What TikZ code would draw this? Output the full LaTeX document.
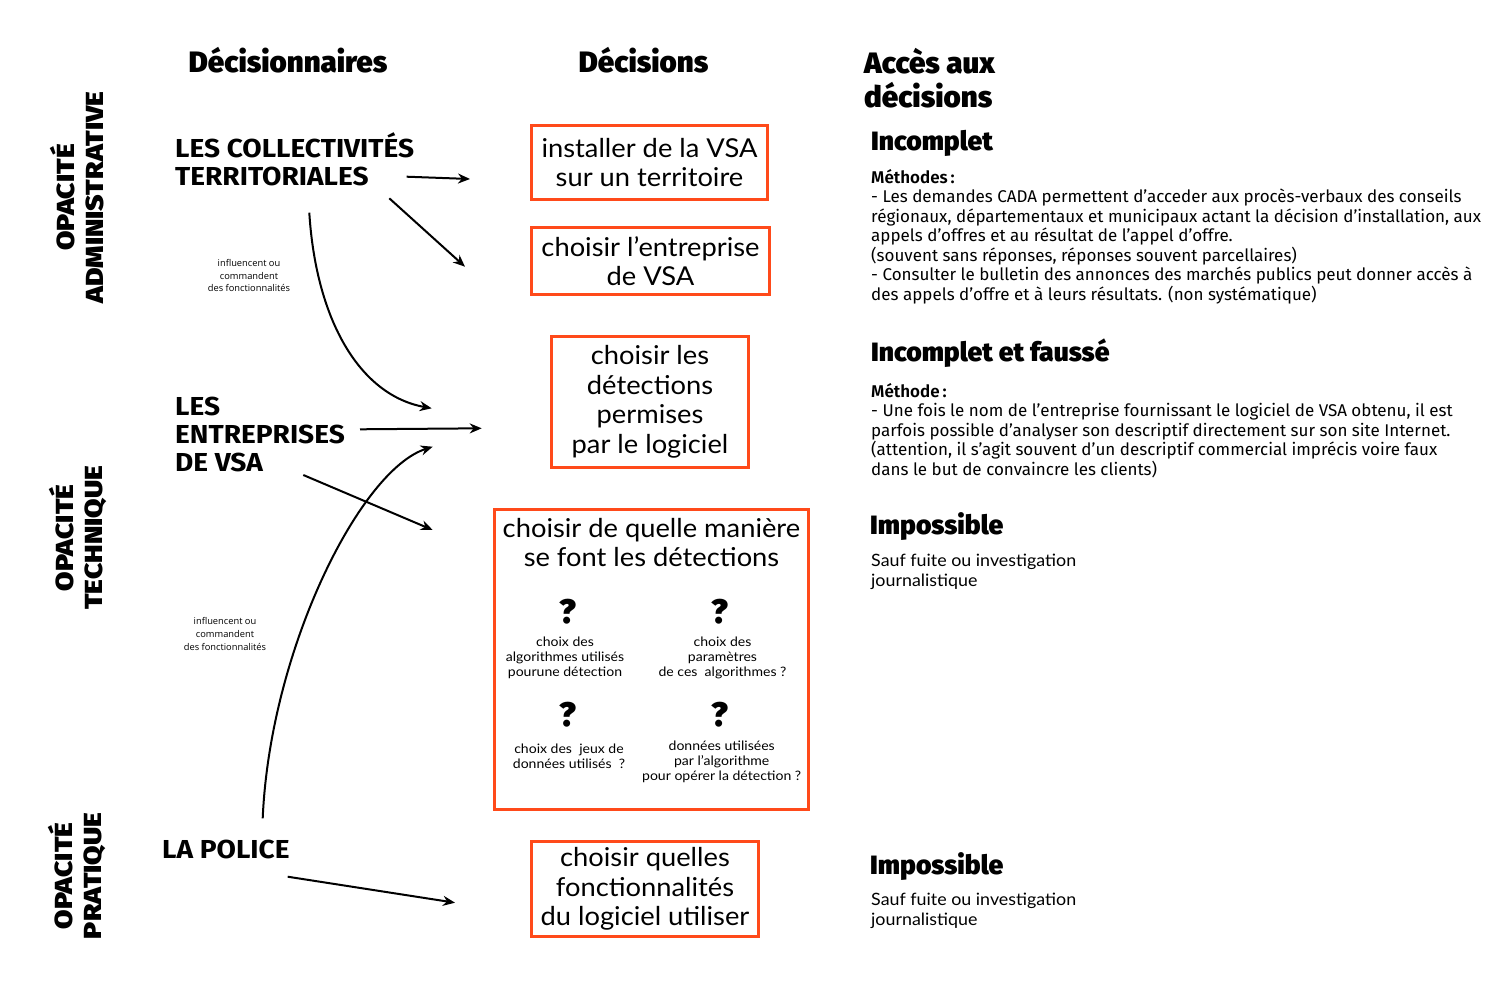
\documentclass[tikz,border=0pt]{standalone}
\usepackage{fontspec}
\setmainfont{Lato}[FakeStretch=1.05]
\newfontfamily\heavyfont{Fira Sans Black}
\newfontfamily\opacfont{Fira Sans Black}[FakeStretch=1.14]
\newfontfamily\firafont{Fira Sans}[BoldFont={Fira Sans SemiBold}]
\newfontfamily\actorfont{Fira Sans}[FakeStretch=1.08]
\newfontfamily\notefont{Open Sans}
\newfontfamily\detailfont{Lato}[FakeStretch=1.08]
\usetikzlibrary{arrows.meta,calc}
\definecolor{vsaOrange}{HTML}{FF4A1A}
\tikzset{
  colhead/.style={font=\heavyfont\fontsize{29.5}{34}\selectfont, inner sep=0pt, anchor=base},
  accesshead/.style={font=\heavyfont\fontsize{26.5}{30}\selectfont, inner sep=0pt, anchor=base west},
  opaclabel/.style={font=\opacfont\fontsize{24.7}{29}\selectfont, inner sep=0pt, rotate=90, align=center},
  actor/.style={font=\actorfont\bfseries\fontsize{26}{28}\selectfont, inner sep=0pt, anchor=base west, align=left},
  note/.style={font=\notefont\fontsize{9.3}{12.7}\selectfont, inner sep=0pt, anchor=base, align=center},
  decision/.style={draw=vsaOrange, line width=3pt, inner sep=0pt, align=center,
    font=\fontsize{26}{29.5}\selectfont},
  boxtext/.style={font=\fontsize{26}{29.5}\selectfont, inner sep=0pt, anchor=base, align=center},
  qmark/.style={font=\heavyfont\fontsize{34}{34}\selectfont, inner sep=0pt, anchor=base},
  detail/.style={font=\detailfont\fontsize{13}{15}\selectfont, inner sep=0pt, anchor=base, align=center},
  method/.style={font=\firafont\fontsize{17}{19.5}\selectfont, inner sep=0pt, anchor=base west, align=left},
  leak/.style={font=\fontsize{17}{20}\selectfont, inner sep=0pt, anchor=base west, align=left},
  flow/.style={-{Stealth[length=12pt, width=10pt]}, line width=2pt}
}
\begin{document}
\begin{tikzpicture}[x=1pt, y=-1pt]
  \useasboundingbox (0,0) rectangle (1500,988);
  % column titles
  \node[colhead] (hDecideurs) at (288,72.7) {Décisionnaires};
  \node[colhead] (hDecisions) at (643.5,72.7) {Décisions};
  \node[colhead, anchor=base west, align=left] (hAcces) at (864,107) {Accès aux\\décisions};

  % opacity levels
  \node[opaclabel] (opAdmin) at (77,197.5) {OPACITÉ\\ADMINISTRATIVE};
  \node[opaclabel] (opTech) at (78,538) {OPACITÉ\\TECHNIQUE};
  \node[opaclabel] (opPrat) at (77,876) {OPACITÉ\\PRATIQUE};

  % decision makers
  \node[actor] (collec) at (175,185.5) {LES COLLECTIVITÉS\\TERRITORIALES};
  \node[actor] (entrep) at (175,471.7) {LES\\ENTREPRISES\\DE VSA};
  \node[actor] (police) at (162,858) {LA POLICE};
  \node[note] (noteA) at (249,291.7) {influencent ou\\commandent\\des fonctionnalités};
  \node[note] (noteB) at (225,650) {influencent ou\\commandent\\des fonctionnalités};

  % decisions
  \node[decision, minimum width=236pt, minimum height=74pt] (dInstall) at (649.5,162.5) {installer de la VSA\\sur un territoire};
  \node[decision, minimum width=238pt, minimum height=67pt] (dChoixEnt) at (650.5,261) {choisir l’entreprise\\de VSA};
  \node[decision, minimum width=197pt, minimum height=131pt] (dDetect) at (650,402) {choisir les\\détections\\permises\\par le logiciel};
  \node[decision, minimum width=314pt, minimum height=300pt] (dManiere) at (651.5,659.5) {};
  \node[decision, minimum width=227pt, minimum height=95pt] (dFonction) at (645,889) {choisir quelles\\fonctionnalités\\du logiciel utiliser};

  % inside the detection box
  \node[boxtext] (tManiere) at (651.5,566.7) {choisir de quelle manière\\se font les détections};
  \node[qmark] (qAlgo) at (568,623.3) {?};
  \node[qmark] (qParam) at (720,623.3) {?};
  \node[qmark] (qJeux) at (568,726.7) {?};
  \node[qmark] (qDonnees) at (720,726.7) {?};
  \node[detail] (cAlgo) at (565,676) {choix des\\algorithmes utilisés\\pourune détection};
  \node[detail] (cParam) at (722.5,676) {choix des\\paramètres\\de ces\ \ algorithmes ?};
  \node[detail] (cJeux) at (569,768.3) {choix des\ \ jeux de\\données utilisés\ \ ?};
  \node[detail] (cDonnees) at (721.7,780) {données utilisées\\par l’algorithme\\pour opérer la détection ?};

  % access to decisions
  \node[accesshead] (incA) at (871,150) {Incomplet};
  \node[method] (methA) at (871,300) {\textbf{Méthodes\,:}\\
    - Les demandes CADA permettent d’acceder aux procès-verbaux des conseils\\
    régionaux, départementaux et municipaux actant la décision d’installation, aux\\
    appels d’offres et au résultat de l’appel d’offre.\\
    (souvent sans réponses, réponses souvent parcellaires)\\
    - Consulter le bulletin des annonces des marchés publics peut donner accès à\\
    des appels d’offre et à leurs résultats. (non systématique)};
  \node[accesshead] (incB) at (871,361.7) {Incomplet et faussé};
  \node[method] (methB) at (871,475) {\textbf{Méthode\,:}\\
    - Une fois le nom de l’entreprise fournissant le logiciel de VSA obtenu, il est\\
    parfois possible d’analyser son descriptif directement sur son site Internet.\\
    (attention, il s’agit souvent d’un descriptif commercial imprécis voire faux\\
    dans le but de convaincre les clients)};
  \node[accesshead] (impA) at (870,534) {Impossible};
  \node[leak] (leakA) at (871,586) {Sauf fuite ou investigation\\journalistique};
  \node[accesshead] (impB) at (870,874) {Impossible};
  \node[leak] (leakB) at (871,925) {Sauf fuite ou investigation\\journalistique};

  % arrows
  \draw[flow] ($(collec.base west)+(231.7,-8.8)$) -- ($(dInstall.west)+(-60,16.5)$);
  \draw[flow] ($(collec.base west)+(214.3,12.8)$) -- ($(dChoixEnt.west)+(-65,5.7)$);
  \draw[flow] ($(collec.base west)+(134.3,27.2)$) .. controls +(6.7,107.3) and +(-72,-13) .. ($(dDetect.west)+(-118.3,6.3)$);
  \draw[flow] ($(entrep.base west)+(185,-42.4)$) -- ($(dDetect.west)+(-68.3,26.3)$);
  \draw[flow] ($(police.base west)+(100.7,-39.7)$) .. controls +(7.3,-168.3) and +(-72.7,23.3) .. ($(dDetect.west)+(-117.3,44.7)$);
  \draw[flow] ($(entrep.base west)+(128.3,3.3)$) -- ($(dManiere.west)+(-60.3,-129.5)$);
  \draw[flow] ($(police.base west)+(125.7,18.7)$) -- ($(dFonction.west)+(-75,13.7)$);
\end{tikzpicture}
\end{document}
